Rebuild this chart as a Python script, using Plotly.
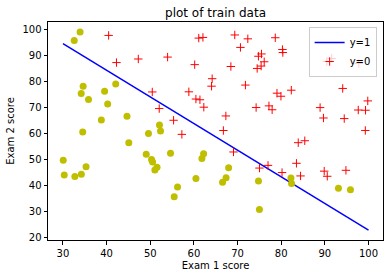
import plotly.graph_objects as go

# Admitted (red +)
pos_x1 = [60.18, 79.03, 61.11, 75.02, 76.10, 84.43, 82.31, 69.36, 53.97, 69.07,
          70.66, 76.98, 89.68, 77.92, 62.27, 80.19, 61.38, 85.40, 52.05, 64.18,
          83.90, 94.44, 77.19, 97.77, 62.07, 91.56, 79.94, 99.27, 90.55, 97.65,
          74.25, 71.80, 75.40, 40.46, 80.28, 66.75, 64.04, 72.35, 60.46, 58.84,
          99.83, 47.26, 50.46, 88.91, 94.83, 67.32, 57.24, 80.37, 68.47, 75.48,
          78.64, 94.09, 90.45, 74.49, 89.85, 83.49, 42.26, 99.32, 55.34, 74.78]
pos_x2 = [86.31, 75.34, 96.51, 46.55, 87.42, 43.53, 76.48, 97.72, 89.21, 52.74,
          92.93, 47.58, 65.80, 68.97, 69.95, 44.82, 72.81, 57.05, 69.43, 80.91,
          56.31, 65.57, 70.46, 86.73, 96.77, 88.70, 74.16, 61.00, 43.39, 68.86,
          69.82, 78.45, 85.76, 97.54, 92.12, 60.99, 78.03, 96.23, 73.09, 75.86,
          72.37, 88.48, 75.81, 69.80, 45.69, 66.59, 59.51, 90.96, 85.59, 90.42,
          96.65, 77.16, 87.51, 84.85, 45.36, 48.38, 87.10, 68.78, 64.93, 89.53]

# Not admitted (yellow circles)
neg_x1 = [34.62, 30.29, 35.85, 45.08, 95.86, 75.01, 39.54, 67.95, 67.37, 50.53,
          34.21, 93.11, 61.83, 38.79, 52.11, 40.24, 54.64, 33.92, 74.79, 34.18,
          51.55, 82.37, 51.05, 62.22, 34.52, 50.29, 49.59, 32.58, 35.29, 56.25,
          30.06, 44.67, 66.56, 49.07, 32.72, 60.46, 82.23, 42.08, 52.35, 55.48]
neg_x2 = [78.02, 43.89, 72.90, 56.32, 38.23, 30.60, 76.04, 46.68, 42.84, 48.86,
          44.21, 38.80, 50.26, 65.00, 63.13, 71.17, 52.21, 98.87, 41.57, 75.24,
          46.86, 40.62, 45.82, 52.06, 60.40, 49.80, 59.81, 95.60, 47.02, 39.26,
          49.59, 66.45, 41.09, 51.88, 43.31, 42.51, 42.72, 78.84, 60.77, 35.57]

# Decision boundary
line_x = [30, 100]
line_y = [94.4, 22.7]

x_ticks = [30, 40, 50, 60, 70, 80, 90, 100]
y_ticks = [20, 30, 40, 50, 60, 70, 80, 90, 100]

FONT = "DejaVu Sans"

fig = go.Figure()
fig.add_trace(go.Scatter(x=line_x, y=line_y, mode="lines", name="y=1",
                         line=dict(color="#0000ff", width=1.5)))
fig.add_trace(go.Scatter(x=pos_x1, y=pos_x2, mode="markers", name="y=0",
                         marker=dict(symbol="cross-thin", size=6,
                                     line=dict(color="#ff0000", width=1),
                                     color="#ff0000")))
fig.add_trace(go.Scatter(x=neg_x1, y=neg_x2, mode="markers", showlegend=False,
                         marker=dict(symbol="circle", size=7, color="#bfbf00",
                                     line=dict(width=0))))

axis_common = dict(showgrid=False, zeroline=False, showline=True, linecolor="black",
                   linewidth=1, mirror=True, ticks="outside", ticklen=3.5,
                   tickwidth=0.8, tickcolor="black",
                   tickfont=dict(family=FONT, size=10, color="black"))

fig.update_layout(
    width=392, height=278,
    margin=dict(l=48, r=9, t=22, b=38),
    paper_bgcolor="white", plot_bgcolor="white",
    font=dict(family=FONT, size=10, color="black"),
    title=dict(text="plot of train data", x=0.5, xref="paper", xanchor="center",
               y=1, yref="paper", yanchor="bottom", pad=dict(b=5),
               font=dict(family=FONT, size=12, color="black")),
    xaxis=dict(range=[26.57, 103.32], tickvals=x_ticks,
               title=dict(text="Exam 1 score", standoff=4,
                          font=dict(family=FONT, size=10, color="black")),
               **axis_common),
    yaxis=dict(range=[18.9, 102.7], tickvals=y_ticks,
               title=dict(text="Exam 2 score", standoff=5,
                          font=dict(family=FONT, size=10, color="black")),
               **axis_common),
    legend=dict(x=0.981, y=0.977, xanchor="right", yanchor="top",
                bgcolor="rgba(255,255,255,0.8)", bordercolor="#cccccc",
                borderwidth=1, font=dict(family=FONT, size=10, color="black"),
                itemwidth=30, tracegroupgap=0),
    showlegend=True,
)

fig.write_html("out.html")
